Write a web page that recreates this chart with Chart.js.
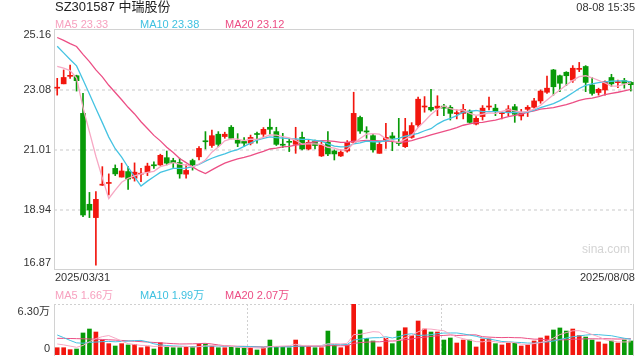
<!DOCTYPE html>
<html><head><meta charset="utf-8">
<script src="https://cdn.jsdelivr.net/npm/chart.js@4/dist/chart.umd.min.js"></script>
<style>
body{margin:0;background:#fff;width:640px;height:360px;overflow:hidden;position:relative;font-family:"Liberation Sans",Arial,"Noto Sans CJK SC",sans-serif;}
canvas{position:absolute;left:0;}
#main{top:0;}
#vol{top:290px;}
.t{position:absolute;white-space:nowrap;line-height:1;}
</style></head>
<body>
<canvas id="main" width="640" height="290"></canvas>
<canvas id="vol" width="640" height="70"></canvas>
<div class="t" style="left:55px;top:0px;font-size:13px;color:#222">SZ301587 中瑞股份</div>
<div class="t" style="right:5px;top:1.5px;font-size:11px;color:#333">08-08 15:35</div>
<div class="t" style="left:55px;top:18.5px;font-size:11px;color:#f7a1bf">MA5 23.33</div>
<div class="t" style="left:140px;top:18.5px;font-size:11px;color:#3fc1e0">MA10 23.38</div>
<div class="t" style="left:225px;top:18.5px;font-size:11px;color:#ec4d84">MA20 23.12</div>
<div class="t" id="d0" style="left:55px;top:271.5px;font-size:11px;color:#333"></div>
<div class="t" id="d1" style="right:5px;top:271.5px;font-size:11px;color:#333"></div>
<div class="t" style="left:55px;top:289.5px;font-size:11px;color:#f7a1bf">MA5 1.66万</div>
<div class="t" style="left:140px;top:289.5px;font-size:11px;color:#3fc1e0">MA10 1.99万</div>
<div class="t" style="left:225px;top:289.5px;font-size:11px;color:#ec4d84">MA20 2.07万</div>
<div class="t" style="left:582px;top:243px;font-size:12px;color:#d4d4d4">sina.com</div>
<script>
const dates = ['2025/03/31',
'2025/04/01','2025/04/02','2025/04/03','2025/04/07','2025/04/08','2025/04/09','2025/04/10','2025/04/11','2025/04/14','2025/04/15','2025/04/16','2025/04/17','2025/04/18','2025/04/21','2025/04/22','2025/04/23','2025/04/24','2025/04/25','2025/04/28','2025/04/29','2025/04/30',
'2025/05/06','2025/05/07','2025/05/08','2025/05/09','2025/05/12','2025/05/13','2025/05/14','2025/05/15','2025/05/16','2025/05/19','2025/05/20','2025/05/21','2025/05/22','2025/05/23','2025/05/26','2025/05/27','2025/05/28','2025/05/29','2025/05/30',
'2025/06/03','2025/06/04','2025/06/05','2025/06/06','2025/06/09','2025/06/10','2025/06/11','2025/06/12','2025/06/13','2025/06/16','2025/06/17','2025/06/18','2025/06/19','2025/06/20','2025/06/23','2025/06/24','2025/06/25','2025/06/26','2025/06/27','2025/06/30',
'2025/07/01','2025/07/02','2025/07/03','2025/07/04','2025/07/07','2025/07/08','2025/07/09','2025/07/10','2025/07/11','2025/07/14','2025/07/15','2025/07/16','2025/07/17','2025/07/18','2025/07/21','2025/07/22','2025/07/23','2025/07/24','2025/07/25','2025/07/28','2025/07/29','2025/07/30','2025/07/31',
'2025/08/01','2025/08/04','2025/08/05','2025/08/06','2025/08/07','2025/08/08'];

const opens = [23.15,23.30,23.56,23.58,22.28,19.14,18.68,19.80,19.86,20.38,
20.08,20.27,20.04,20.18,20.25,20.49,20.50,20.75,20.65,20.58,
20.18,20.65,20.78,21.32,21.17,21.56,21.48,21.80,21.35,21.31,
21.25,21.57,21.56,21.80,21.65,21.20,21.30,21.21,21.45,21.05,
21.33,20.81,21.28,20.98,20.81,20.98,21.28,22.14,21.66,21.51,
20.90,21.36,21.50,21.26,21.13,21.45,21.88,22.50,22.49,22.46,
22.53,22.49,22.27,22.28,22.36,21.91,22.17,22.50,22.46,22.27,
22.31,22.51,22.19,22.42,22.49,22.71,23.01,23.78,23.58,23.70,
23.43,23.80,23.90,23.26,23.00,23.09,23.52,23.34,23.41,23.35];
const highs = [23.49,23.78,23.95,23.60,22.97,19.55,19.58,20.44,20.19,20.50,
20.56,20.44,20.57,20.38,20.56,20.61,20.87,20.98,20.73,20.73,
20.50,20.70,21.13,21.65,21.70,21.65,21.63,21.86,21.58,21.44,
21.53,21.63,21.79,22.08,21.80,21.59,21.42,21.80,21.63,21.36,
21.36,21.31,21.65,21.02,21.02,21.34,23.01,22.19,21.82,21.56,
21.28,21.94,21.62,22.11,22.11,21.96,22.84,22.86,23.11,22.89,
22.59,22.55,22.40,22.59,22.40,22.17,22.55,22.84,22.59,22.34,
22.55,22.59,22.42,22.55,22.80,23.09,23.57,23.80,23.60,23.72,
23.93,24.04,23.93,23.52,23.15,23.40,23.63,23.43,23.49,23.38];
const lows = [22.91,23.30,23.49,23.05,18.71,18.68,17.04,19.79,19.46,20.13,
20.08,19.65,19.94,19.92,20.13,20.38,20.48,20.50,20.41,20.04,
20.04,20.32,20.67,21.05,21.10,21.13,21.42,21.40,21.13,21.13,
21.19,21.25,21.48,21.56,21.17,21.10,20.96,20.90,21.02,21.02,
21.05,20.79,20.82,20.67,20.79,20.94,21.25,21.59,21.42,20.94,
20.90,21.07,20.99,21.17,21.10,21.42,21.80,22.32,22.36,22.20,
22.20,22.05,22.09,22.09,21.94,21.88,22.05,22.40,22.20,22.09,
22.20,21.97,22.05,22.17,22.46,22.63,22.97,22.91,23.03,23.24,
23.35,23.72,23.03,22.91,22.91,22.91,23.21,23.17,23.15,23.05];
const closes = [23.18,23.52,23.58,23.41,18.77,18.94,19.31,19.82,19.88,20.19,
20.29,20.01,20.25,20.20,20.46,20.47,20.83,20.56,20.58,20.19,
20.31,20.50,21.07,21.30,21.51,21.21,21.56,21.42,21.25,21.25,
21.45,21.55,21.73,21.73,21.21,21.18,21.28,21.36,21.05,21.28,
21.17,21.19,20.88,20.88,20.94,21.28,22.28,21.67,21.64,21.02,
21.21,21.45,21.42,21.24,21.65,21.86,22.77,22.52,22.40,22.53,
22.46,22.28,22.29,22.42,21.97,22.11,22.46,22.52,22.36,22.29,
22.43,22.25,22.28,22.49,22.71,23.05,23.15,23.20,23.32,23.58,
23.84,23.82,23.35,22.97,23.11,23.38,23.30,23.36,23.32,23.27];

const ma5 = [23.90,23.84,23.76,23.50,22.49,21.64,20.80,20.05,19.34,19.63,
19.90,20.04,20.12,20.19,20.24,20.28,20.44,20.50,20.58,20.53,
20.49,20.43,20.53,20.67,20.94,21.12,21.33,21.40,21.39,21.34,
21.39,21.38,21.45,21.54,21.53,21.48,21.43,21.35,21.22,21.23,
21.23,21.21,21.11,21.08,21.01,21.03,21.25,21.41,21.56,21.58,
21.56,21.40,21.35,21.27,21.39,21.52,21.79,22.01,22.24,22.42,
22.54,22.44,22.39,22.40,22.28,22.21,22.25,22.30,22.28,22.35,
22.41,22.37,22.32,22.35,22.43,22.56,22.74,22.92,23.09,23.26,
23.42,23.55,23.58,23.51,23.42,23.33,23.22,23.22,23.29,23.33];
const ma10 = [24.60,24.37,24.14,23.92,23.44,22.95,22.45,21.96,21.46,21.06,
20.77,20.42,20.09,19.77,19.94,20.09,20.24,20.31,20.38,20.38,
20.39,20.44,20.52,20.63,20.73,20.81,20.88,20.97,21.03,21.14,
21.25,21.36,21.42,21.47,21.44,21.43,21.41,21.40,21.38,21.38,
21.35,21.32,21.23,21.15,21.12,21.13,21.23,21.26,21.32,21.30,
21.30,21.33,21.38,21.42,21.49,21.54,21.59,21.68,21.75,21.91,
22.03,22.11,22.20,22.32,22.35,22.38,22.34,22.34,22.34,22.32,
22.31,22.31,22.31,22.32,22.39,22.48,22.55,22.62,22.72,22.85,
22.99,23.14,23.25,23.30,23.34,23.37,23.39,23.40,23.40,23.37];
const ma20 = [24.90,24.80,24.69,24.59,24.32,24.07,23.78,23.54,23.25,23.00,
22.75,22.49,22.26,21.99,21.76,21.52,21.33,21.11,20.93,20.72,
20.58,20.43,20.30,20.20,20.33,20.45,20.56,20.64,20.71,20.76,
20.82,20.90,20.97,21.05,21.08,21.12,21.14,21.18,21.21,21.26,
21.30,21.34,21.33,21.31,21.28,21.28,21.32,21.33,21.35,21.34,
21.33,21.32,21.31,21.28,21.30,21.34,21.41,21.47,21.54,21.60,
21.66,21.72,21.79,21.87,21.92,21.96,21.97,22.01,22.05,22.11,
22.17,22.21,22.25,22.32,22.37,22.43,22.45,22.48,22.53,22.58,
22.65,22.73,22.78,22.81,22.86,22.93,22.97,23.01,23.06,23.11];

// volume in 万 shares
const volumes = [0.90,0.90,0.66,0.74,2.72,3.21,2.84,1.85,1.40,1.11,
1.40,1.24,1.32,0.90,1.03,0.74,1.52,0.99,0.90,0.90,
1.03,1.03,1.32,1.36,1.11,0.90,0.90,1.03,0.90,0.90,
0.90,0.62,0.95,1.85,1.03,1.03,0.90,1.85,1.11,1.03,
0.90,0.90,2.96,1.20,0.90,1.24,6.30,3.09,2.06,1.73,
0.99,2.06,1.40,2.96,3.37,2.38,4.20,3.21,2.84,2.84,
1.85,2.10,1.48,1.85,1.85,0.99,1.98,1.98,1.40,1.24,
1.48,1.48,1.11,1.24,1.73,2.10,2.35,3.09,3.34,2.96,
3.21,2.40,2.22,1.85,1.61,1.36,1.73,1.48,1.85,1.73];
const vma5 = [1.36,1.25,1.10,0.95,1.18,1.65,2.03,2.27,2.40,2.08,
1.72,1.40,1.29,1.19,1.18,1.05,1.10,1.04,1.04,1.01,
1.07,0.97,1.04,1.13,1.17,1.14,1.12,1.06,0.97,0.93,
0.93,0.87,0.85,1.04,1.07,1.10,1.15,1.33,1.18,1.18,
1.16,1.16,1.38,1.40,1.37,1.44,2.52,2.55,2.72,2.88,
2.83,1.99,1.65,1.83,2.16,2.43,2.86,3.22,3.20,3.09,
2.99,2.57,2.22,2.02,1.83,1.65,1.63,1.73,1.64,1.52,
1.62,1.52,1.34,1.31,1.41,1.53,1.71,2.10,2.52,2.77,
2.99,3.00,2.83,2.53,2.26,1.89,1.75,1.61,1.61,1.63];
const vma10 = [2.47,2.15,1.80,1.50,1.45,1.55,1.60,1.65,1.68,1.63,
1.68,1.72,1.78,1.80,1.63,1.38,1.25,1.17,1.12,1.09,
1.06,1.04,1.04,1.08,1.09,1.11,1.04,1.05,1.05,1.05,
1.04,0.99,0.96,1.01,1.00,1.01,1.01,1.09,1.11,1.13,
1.13,1.16,1.36,1.29,1.28,1.30,1.84,1.96,2.06,2.13,
2.14,2.25,2.10,2.27,2.52,2.63,2.42,2.44,2.51,2.63,
2.71,2.72,2.72,2.61,2.46,2.32,2.10,1.98,1.83,1.67,
1.64,1.57,1.54,1.48,1.46,1.57,1.61,1.72,1.92,2.09,
2.26,2.35,2.46,2.53,2.51,2.44,2.38,2.22,2.07,1.94];
const vma20 = [2.06,2.05,2.04,2.02,2.00,1.98,1.95,1.92,1.88,1.84,
1.80,1.75,1.70,1.65,1.60,1.55,1.50,1.45,1.40,1.36,
1.37,1.38,1.41,1.44,1.36,1.24,1.15,1.11,1.08,1.07,
1.05,1.02,1.00,1.04,1.04,1.06,1.03,1.07,1.08,1.09,
1.08,1.07,1.16,1.15,1.14,1.16,1.43,1.53,1.59,1.63,
1.63,1.70,1.73,1.78,1.90,1.97,2.13,2.20,2.29,2.38,
2.42,2.48,2.41,2.44,2.49,2.48,2.26,2.21,2.17,2.15,
2.17,2.14,2.13,2.04,1.96,1.95,1.86,1.85,1.87,1.88,
1.95,1.96,2.00,2.00,1.99,2.01,1.99,1.97,1.99,2.02];

const priceTicks = [25.16, 23.08, 21.01, 18.94, 16.87];
const priceTickLabels = ['25.16', '23.08', '21.01', '18.94', '16.87'];
const volTicks = [6.30, 0];
const volTickLabels = ['6.30万', '0'];

const RED = '#f2160e', GREEN = '#089a08';
const C5 = '#f7a8c4', C10 = '#45c3e2', C20 = '#ec4f85';
const FONT = '11px "Liberation Sans", Arial, "Noto Sans CJK SC", sans-serif';

document.getElementById('d0').textContent = dates[0];
document.getElementById('d1').textContent = dates[dates.length - 1];

const candleColors = closes.map((c, i) => c >= opens[i] ? RED : GREEN);

function lineDs(data, color, w) {
  return {type: 'line', data, borderColor: color, borderWidth: w, pointRadius: 0, tension: 0, fill: false, order: 0};
}

const mainFrame = {
  id: 'mainFrame',
  beforeDatasetsDraw(chart) {
    const {ctx, chartArea: a, scales: {y}} = chart;
    ctx.save();
    ctx.strokeStyle = '#e4e4e4';
    ctx.lineWidth = 2;
    ctx.setLineDash([3, 3]);
    priceTicks.forEach((v, i) => {
      if (i === 0 || i === priceTicks.length - 1) return;
      const py = Math.round(y.getPixelForValue(v));
      ctx.beginPath(); ctx.moveTo(a.left, py); ctx.lineTo(a.right, py); ctx.stroke();
    });
    ctx.setLineDash([]);
    ctx.lineWidth = 1;
    ctx.strokeStyle = '#d2d2d2';
    ctx.strokeRect(Math.round(a.left) + 0.5, Math.round(a.top) - 0.5, Math.round(a.right - a.left) - 1, Math.round(a.bottom - a.top));
    ctx.restore();
  },
  afterDraw(chart) {
    const {ctx, chartArea: a, scales: {y}} = chart;
    ctx.save();
    ctx.font = FONT; ctx.fillStyle = '#333'; ctx.textAlign = 'right'; ctx.textBaseline = 'middle';
    priceTicks.forEach((v, i) => {
      let py = y.getPixelForValue(v);
      py = Math.max(a.top + 5, Math.min(a.bottom - 7, py - 0.5));
      ctx.fillText(priceTickLabels[i], a.left - 3, py);
    });
    ctx.restore();
  }
};

new Chart(document.getElementById('main'), {
  type: 'bar',
  data: {
    labels: dates,
    datasets: [
      lineDs(ma5, C5, 1.3),
      lineDs(ma10, C10, 1.3),
      lineDs(ma20, C20, 1.3),
      {type: 'bar', data: opens.map((o, i) => [Math.min(o, closes[i]), Math.max(o, closes[i])]),
       backgroundColor: candleColors, barThickness: 5, minBarLength: 1, grouped: false, order: 1},
      {type: 'bar', data: highs.map((h, i) => [lows[i], h]),
       backgroundColor: candleColors, barThickness: 1, grouped: false, order: 2}
    ]
  },
  options: {
    responsive: false, animation: false, devicePixelRatio: 1,
    layout: {padding: {left: 54, right: 6, top: 30, bottom: 20}},
    plugins: {legend: {display: false}, tooltip: {enabled: false}},
    scales: {
      x: {display: false, offset: true},
      y: {display: false, min: 16.87, max: 25.16}
    }
  },
  plugins: [mainFrame]
});

const volFrame = {
  id: 'volFrame',
  beforeDatasetsDraw(chart) {
    const {ctx, chartArea: a} = chart;
    ctx.save();
    ctx.strokeStyle = '#d0d0d0';
    ctx.lineWidth = 1;
    ctx.setLineDash([2, 2]);
    const t = Math.round(a.top) + 0.5;
    ctx.beginPath(); ctx.moveTo(a.left, t); ctx.lineTo(a.right, t); ctx.stroke();
    [1, 2].forEach(k => {
      const px = Math.round(a.left + (a.right - a.left) * k / 3) + 0.5;
      ctx.beginPath(); ctx.moveTo(px, a.top); ctx.lineTo(px, a.bottom); ctx.stroke();
    });
    ctx.setLineDash([]);
    ctx.strokeStyle = '#d2d2d2';
    const l = Math.round(a.left) + 0.5, r = Math.round(a.right) - 0.5;
    ctx.beginPath(); ctx.moveTo(l, a.top); ctx.lineTo(l, a.bottom + 1); ctx.stroke();
    ctx.beginPath(); ctx.moveTo(r, a.top); ctx.lineTo(r, a.bottom + 1); ctx.stroke();
    ctx.restore();
  },
  afterDraw(chart) {
    const {ctx, chartArea: a, scales: {y}} = chart;
    ctx.save();
    ctx.font = FONT; ctx.fillStyle = '#333'; ctx.textAlign = 'right'; ctx.textBaseline = 'middle';
    volTicks.forEach((v, i) => {
      let py = y.getPixelForValue(v);
      py = Math.max(a.top + 7.5, Math.min(a.bottom - 6, py));
      ctx.fillText(volTickLabels[i], a.left - 4, py);
    });
    ctx.restore();
  }
};

new Chart(document.getElementById('vol'), {
  type: 'bar',
  data: {
    labels: dates,
    datasets: [
      lineDs(vma5, C5, 1),
      lineDs(vma10, C10, 1),
      lineDs(vma20, C20, 1),
      {type: 'bar', data: volumes, backgroundColor: candleColors, barThickness: 4, order: 1}
    ]
  },
  options: {
    responsive: false, animation: false, devicePixelRatio: 1,
    layout: {padding: {left: 54, right: 6, top: 14, bottom: 5}},
    plugins: {legend: {display: false}, tooltip: {enabled: false}},
    scales: {
      x: {display: false, offset: true},
      y: {display: false, min: 0, max: 6.30}
    }
  },
  plugins: [volFrame]
});
</script>
</body></html>
